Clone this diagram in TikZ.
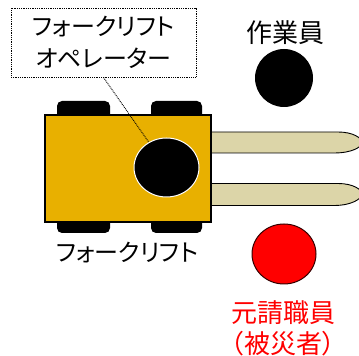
\documentclass[tikz,border=0pt]{standalone}
\usepackage{fontspec}
\setmainfont{Noto Sans CJK JP}[RawFeature={+palt}]
\usetikzlibrary{shapes.geometric,positioning}
\definecolor{liftgold}{RGB}{232,176,0}
\definecolor{forkbeige}{RGB}{220,213,168}
\tikzset{
  wheel/.style={
    fill=black,
    rounded corners=5pt,
  },
  fork/.style={
    draw=black,
    fill=forkbeige,
    line width=0.9pt,
  },
  person/.style={
    ellipse,
    minimum width={#1},
    line width=1pt,
  },
  dots/.style={
    line width=0.9pt,
    dash pattern=on 0.9pt off 0.9pt,
  },
  callout/.style={
    draw,
    dots,
    align=center,
    font=\fontsize{24}{32}\selectfont,
  },
  label text/.style={
    font=\fontsize{26}{31}\selectfont,
    align=center,
  }
}

\begin{document}
\begin{tikzpicture}[x=1pt,y=1pt]
        \useasboundingbox (0,0) rectangle (359,356);

        % forks, partly under the body
        \draw [fork] (205,224) -- (338,224) .. controls (353,224) and (362,218) .. (362,213.5)
                .. controls (362,209) and (352,203) .. (334,203) -- (205,203) -- cycle;
        \draw [fork] (205,172.5) -- (338,172.5) .. controls (353,172.5) and (362,166.5) .. (362,162)
                .. controls (362,157.5) and (352,150.5) .. (334,150.5) -- (205,150.5) -- cycle;

        % wheels
        \fill [wheel] (57,232) rectangle (110,255);
        \fill [wheel] (151,232) rectangle (202,255);
        \fill [wheel] (57,123) rectangle (110,145);
        \fill [wheel] (151,123) rectangle (202,145);

        % body
        \node [draw, line width=1.5pt, fill=liftgold, minimum width=166pt, minimum height=107pt,
               inner sep=0pt] (lift) at (128,187.5) {};

        \node [callout, minimum width=185pt, minimum height=69pt] (opbox) at (103.5,313.5)
              {フォークリフト\\オペレーター};
        \draw [dots] (opbox.south) -- (166.5,188.5) coordinate (opseat);

        \node [person=65pt, minimum height=59pt, fill=black, draw=white] (operator) at (opseat) {};
        \node [person=58pt, minimum height=58pt, fill=black] (worker) at (284,278) {};
        \node [person=64pt, minimum height=60pt, fill=red, draw=black!80!red] (victim) at (284,102) {};

        \node [font=\fontsize{24}{26}\selectfont] (liftname) at (127,103) {フォークリフト};
        \node [label text] (workername) at (285,323) {作業員};
        \node [label text, text=red] (victimname) at (283,28) {元請職員\\（被災者）};
\end{tikzpicture}
\end{document}
